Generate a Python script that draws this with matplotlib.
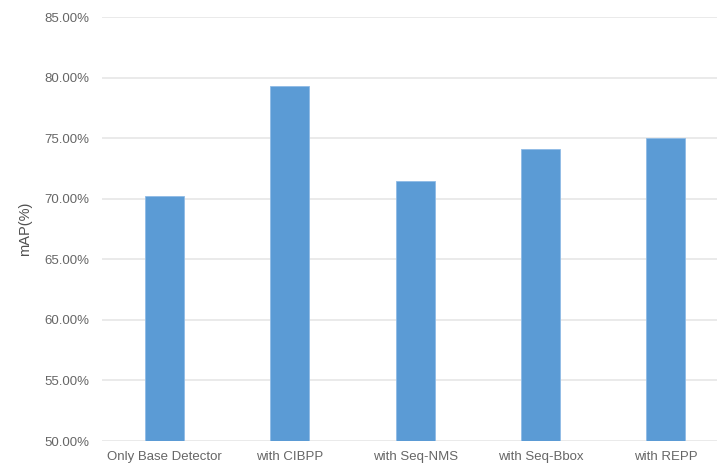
import numpy as np
import matplotlib
matplotlib.use('Agg')
import matplotlib.pyplot as plt
from matplotlib.ticker import FuncFormatter

metodos = ['Only Base Detector', 'with CIBPP', 'with Seq-NMS', 'with Seq-Bbox', 'with REPP']
mAP = [70.2, 79.3, 71.5, 74.1, 75.0]

plt.rcParams['font.family'] = ['Liberation Sans', 'DejaVu Sans']

fig = plt.figure(figsize=(7.17, 4.66), dpi=100)
ax = fig.add_axes([0.1423, 0.0536, 0.8577, 0.9099])

x = np.arange(len(metodos))
ax.bar(x, mAP, width=0.31, color='#5b9bd5', edgecolor='#8fbbe6', linewidth=0.6, zorder=3)

ax.set_ylim(50, 85)
ax.set_xlim(-0.5, 4.41)
ax.set_yticks(np.arange(50, 86, 5))
ax.yaxis.set_major_formatter(FuncFormatter(lambda v, p: '%.2f%%' % v))
ax.set_xticks(x)
ax.set_xticklabels(metodos)

ax.grid(axis='y', color='#e6e6e6', linewidth=1.2, zorder=0)
for s in ax.spines.values():
    s.set_visible(False)
ax.tick_params(axis='both', length=0, labelsize=9.5, colors='#666666')
ax.tick_params(axis='y', pad=9)
ax.tick_params(axis='x', pad=7)

ax.set_ylabel('mAP(%)', fontsize=10.5, color='#505050')
ax.yaxis.set_label_coords(-0.113, 0.5)

fig.savefig('out.png', dpi=100)
plt.close()
